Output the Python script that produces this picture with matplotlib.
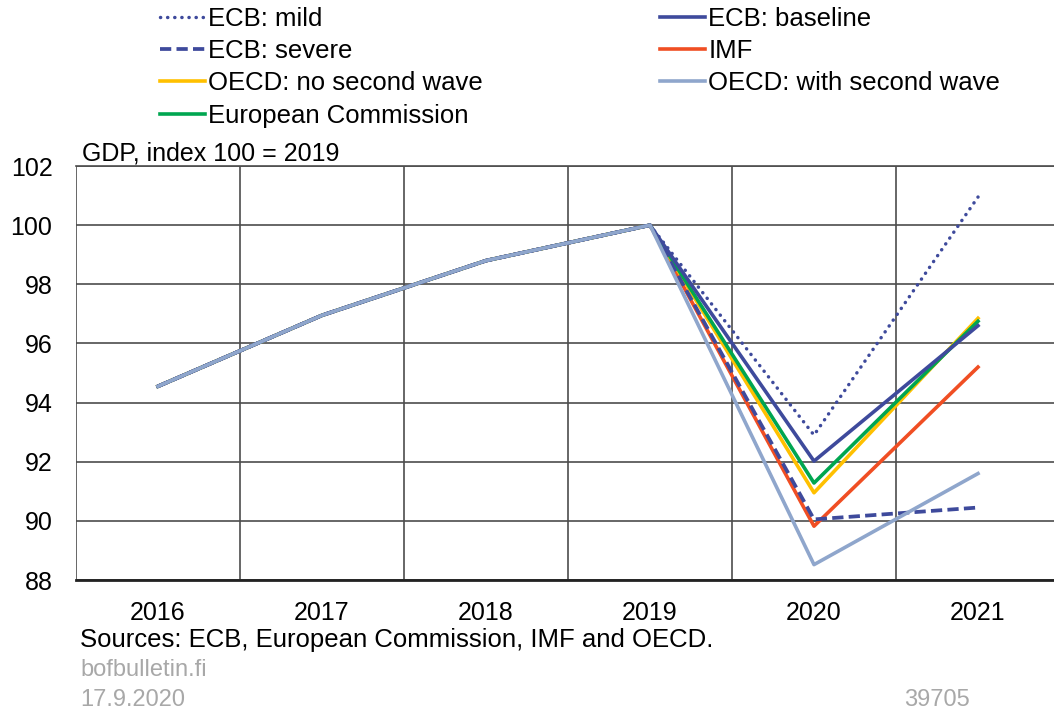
import matplotlib.pyplot as plt

plt.rcParams["font.family"] = ["Liberation Sans", "DejaVu Sans"]

years = ["2016", "2017", "2018", "2019", "2020", "2021"]
history = [94.55, 96.95, 98.8, 100.0]

ecb_mild = history + [92.9, 100.95]
ecb_baseline = history + [92.02, 96.6]
ecb_severe = history + [90.05, 90.45]
imf = history + [89.82, 95.2]
oecd_no_wave = history + [90.95, 96.85]
oecd_second_wave = history + [88.52, 91.6]
eu_commission = history + [91.28, 96.75]

navy = "#3E4A9C"
series = [
    ("ECB: mild", ecb_mild, navy, ":"),
    ("ECB: severe", ecb_severe, navy, "--"),
    ("OECD: no second wave", oecd_no_wave, "#FFC000", "-"),
    ("European Commission", eu_commission, "#00A650", "-"),
    ("ECB: baseline", ecb_baseline, navy, "-"),
    ("IMF", imf, "#F04E23", "-"),
    ("OECD: with second wave", oecd_second_wave, "#8FA6CC", "-"),
]

fig = plt.figure(figsize=(10.54, 7.13), dpi=100)
ax = fig.add_axes([76 / 1054, 1 - 580 / 713, (1060 - 76) / 1054, (580 - 166) / 713])

x = list(range(len(years)))
draw_order = [5, 2, 3, 1, 4, 0, 6]
handles = {}
for i in draw_order:
    label, vals, color, ls = series[i]
    if ls == ":":
        (ln,) = ax.plot(x, vals, color=color, lw=2.5, linestyle=(0, (0.05, 2.0)),
                        dash_capstyle="round", label=label, zorder=3)
    elif ls == "--":
        (ln,) = ax.plot(x, vals, color=color, lw=2.7, linestyle=(0, (3, 1.4)),
                        label=label, zorder=3)
    else:
        (ln,) = ax.plot(x, vals, color=color, lw=2.6, label=label, zorder=3)
    handles[i] = ln

ax.set_xlim(-0.5, 5.5)
ax.set_ylim(88, 102)
ax.set_yticks(range(88, 103, 2))
ax.set_xticks(x)
ax.set_xticklabels(years)
ax.set_xticks([i + 0.5 for i in range(-1, 6)], minor=True)
ax.tick_params(axis="both", which="both", length=0, labelsize=18, colors="black")
ax.tick_params(axis="x", pad=15)
ax.tick_params(axis="y", pad=17)
ax.grid(True, which="minor", axis="x", color="#4d4d4d", lw=1.2)
ax.grid(True, which="major", axis="y", color="#4d4d4d", lw=1.2)
for s in ["left", "right"]:
    ax.spines[s].set_visible(False)
ax.spines["top"].set_color("#4d4d4d")
ax.spines["top"].set_linewidth(1.2)
ax.spines["bottom"].set_color("#222222")
ax.spines["bottom"].set_linewidth(2)
ax.set_axisbelow(True)

leg_fs = 18.5
em = leg_fs * 100 / 72
fig.legend([handles[i] for i in range(7)], [s[0] for s in series],
           ncol=2, loc="upper left",
           bbox_to_anchor=((160 - 0.4 * em) / 1054, 1 - (7 - 0.4 * em) / 713),
           frameon=False, fontsize=leg_fs, handlelength=1.75, handletextpad=0.12,
           columnspacing=6.9, labelspacing=0.32, borderaxespad=0)

fig.text(82 / 1054, 1 - 153 / 713, "GDP, index 100 = 2019", fontsize=18,
         va="center", ha="left")
fig.text(80 / 1054, 1 - 640 / 713, "Sources: ECB, European Commission, IMF and OECD.",
         fontsize=18.5, va="center", ha="left")
fig.text(80 / 1054, 1 - 670 / 713, "bofbulletin.fi", fontsize=17, color="#A8A8A8",
         va="center", ha="left")
fig.text(80 / 1054, 1 - 700 / 713, "17.9.2020", fontsize=17, color="#A8A8A8",
         va="center", ha="left")
fig.text(970 / 1054, 1 - 700 / 713, "39705", fontsize=17, color="#A8A8A8",
         va="center", ha="right")

fig.savefig("out.png", dpi=100)
